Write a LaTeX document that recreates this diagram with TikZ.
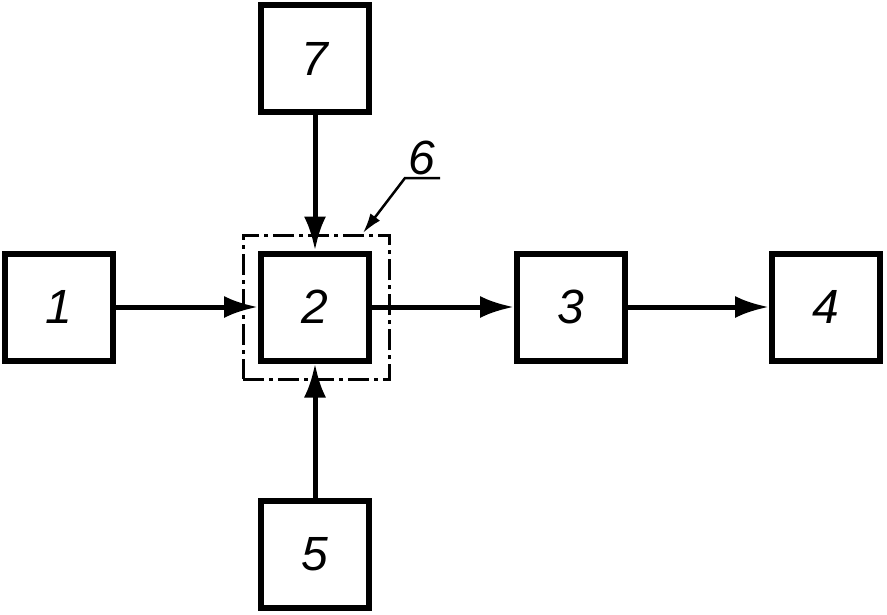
\documentclass[tikz,border=0pt]{standalone}
\usepackage{fontspec}
\setmainfont{Liberation Sans}
\usetikzlibrary{arrows.meta}
\begin{document}
\begin{tikzpicture}[x=1pt,y=-1pt,
  blk/.style={draw, line width=6pt, minimum width=108pt, minimum height=107pt, inner sep=0pt,
    font=\fontsize{48}{48}\selectfont\itshape},
  conn/.style={line width=5pt, -{Latex[length=34pt,width=22pt]}},
  dashbox/.style={draw, line width=3pt, dash pattern=on 21pt off 5pt on 4pt off 5pt,
    minimum width=146pt, minimum height=144pt, inner sep=0pt},
  lead/.style={line width=2.5pt},
  lbl/.style={font=\fontsize{48}{48}\selectfont\itshape, inner sep=0pt}]
\useasboundingbox (0,0) rectangle (887,614);
\node[dashbox] (six) at (316,307) {};
\node[blk] (b1) at (59,307) {1};
\node[blk] (b2) at (315,307) {2};
\node[blk] (b3) at (571,307) {3};
\node[blk] (b4) at (826,307) {4};
\node[blk] (b7) at (315,58.5) {7};
\node[blk] (b5) at (315,554) {5};
\node[lbl] (l6) at (422,158) {6};
\coordinate (la) at (440,178);
\coordinate (lb) at (405,178);
\coordinate (lt) at (363,233);
\draw[conn] (b1) -- (b2);
\draw[conn] (b2) -- (b3);
\draw[conn] (b3) -- (b4);
\draw[conn] (b7) -- (b2);
\draw[conn] (b5) -- (b2);
\draw[lead, -{Latex[length=20pt,width=12pt]}] (la) -- (lb) -- (lt);
\end{tikzpicture}
\end{document}
